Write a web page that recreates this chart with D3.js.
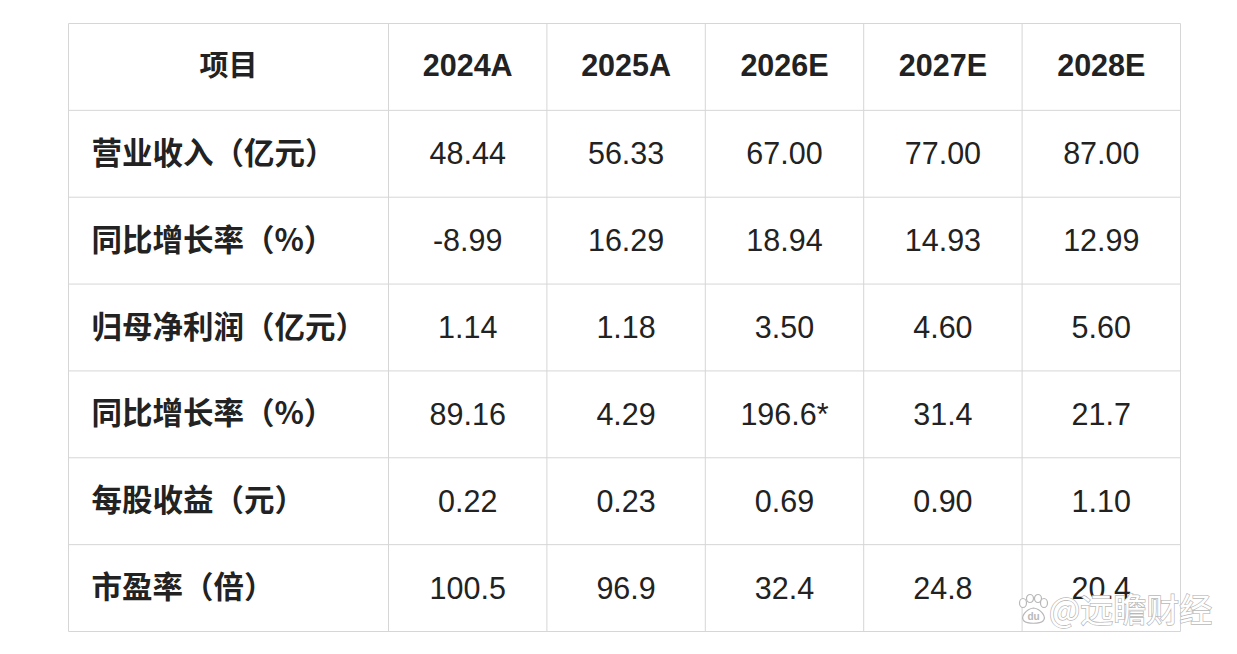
<!DOCTYPE html>
<html>
<head>
<meta charset="utf-8">
<script src="https://cdn.jsdelivr.net/npm/d3@7"></script>
<style>
  html, body { margin: 0; padding: 0; background: #fff; }
  svg { display: block; }
</style>
</head>
<body>
<div id="chart"></div>
<script>
const headerLabel = '项目'
const years = ['2024A', '2025A', '2026E', '2027E', '2028E']
const items = [
  '营业收入（亿元）',
  '同比增长率（%）',
  '归母净利润（亿元）',
  '同比增长率（%）',
  '每股收益（元）',
  '市盈率（倍）'
]
const revenue = ['48.44', '56.33', '67.00', '77.00', '87.00']
const revenueGrowth = ['-8.99', '16.29', '18.94', '14.93', '12.99']
const netProfit = ['1.14', '1.18', '3.50', '4.60', '5.60']
const profitGrowth = ['89.16', '4.29', '196.6*', '31.4', '21.7']
const eps = ['0.22', '0.23', '0.69', '0.90', '1.10']
const pe = ['100.5', '96.9', '32.4', '24.8', '20.4']
const rows = [revenue, revenueGrowth, netProfit, profitGrowth, eps, pe]

const width = 1237
const height = 654
const table = { left: 68.5, right: 1180.5, top: 23.5, bottom: 631.5, firstCol: 388.5 }
const fontCJK = '"Noto Sans CJK SC", "Noto Sans", sans-serif'
const fontNum = '"Liberation Sans", Arial, sans-serif'
const textColor = '#222'
const lineColor = '#d6d6d6'
const numSize = 30.5
const labelSize = 30.5
const headSize = 29

const svg = d3.select('#chart')
  .append('svg')
  .attr('width', width)
  .attr('height', height)

const yScaler = d3.scaleBand()
  .domain(d3.range(items.length + 1))
  .range([table.top, table.bottom])

const xScaler = d3.scaleBand()
  .domain(years)
  .range([table.firstCol, table.right])

// grid lines
const grid = svg.append('g').classed('grid', true)
grid.selectAll('line.h')
  .data(d3.range(items.length + 2))
  .join('line')
  .attr('class', 'h')
  .attr('x1', table.left)
  .attr('x2', table.right)
  .attr('y1', d => d <= items.length ? yScaler(d) : table.bottom)
  .attr('y2', d => d <= items.length ? yScaler(d) : table.bottom)
  .attr('stroke', lineColor)

const colEdges = [table.left].concat(years.map(y => xScaler(y)), [table.right])
grid.selectAll('line.v')
  .data(colEdges)
  .join('line')
  .attr('class', 'v')
  .attr('x1', d => d)
  .attr('x2', d => d)
  .attr('y1', table.top)
  .attr('y2', table.bottom)
  .attr('stroke', lineColor)

const midY = i => yScaler(i) + yScaler.bandwidth() / 2
// baselines: digits sit on cap-height centre, ideographs on em-box centre
const numBase = (i, size) => midY(i) + 0.345 * size
const cjkBase = (i, size) => midY(i) + 0.33 * size

// header
const header = svg.append('g').classed('header', true)
header.append('text')
  .attr('x', (table.left + table.firstCol) / 2)
  .attr('y', cjkBase(0, headSize))
  .attr('text-anchor', 'middle')
  .style('font-family', fontCJK)
  .style('font-weight', 700)
  .style('font-size', headSize + 'px')
  .style('fill', textColor)
  .text(headerLabel)

header.selectAll('text.year')
  .data(years)
  .join('text')
  .attr('class', 'year')
  .attr('x', d => xScaler(d) + xScaler.bandwidth() / 2)
  .attr('y', numBase(0, numSize) - 1)
  .attr('text-anchor', 'middle')
  .style('font-family', fontNum)
  .style('font-weight', 700)
  .style('font-size', numSize + 'px')
  .style('fill', textColor)
  .text(d => d)

// body rows
const body = svg.append('g').classed('body', true)
const rowGroups = body.selectAll('g.row')
  .data(rows)
  .join('g')
  .attr('class', 'row')

rowGroups.append('text')
  .attr('x', table.left + 23)
  .attr('y', (d, i) => cjkBase(i + 1, labelSize))
  .style('font-family', fontCJK)
  .style('font-weight', 700)
  .style('font-size', labelSize + 'px')
  .style('fill', textColor)
  .text((d, i) => items[i])

rowGroups.each(function (values, i) {
  d3.select(this).selectAll('text.val')
    .data(values)
    .join('text')
    .attr('class', 'val')
    .attr('x', (v, j) => xScaler(years[j]) + xScaler.bandwidth() / 2)
    .attr('y', numBase(i + 1, numSize))
    .attr('text-anchor', 'middle')
    .style('font-family', fontNum)
    .style('font-size', numSize + 'px')
    .style('fill', textColor)
    .text(v => v)
})

// watermark
const mark = svg.append('g').classed('watermark', true)
  .attr('transform', 'translate(1018, 595)')
  .style('fill', '#fff')
  .style('stroke', '#b8b8b8')
  .style('stroke-width', 1.2)
const toes = [[5, 8, 3.5, 4.5], [12, 3.5, 3.5, 4], [20, 3.5, 3.5, 4], [26, 8, 3.5, 4.5]]
mark.selectAll('ellipse')
  .data(toes)
  .join('ellipse')
  .attr('cx', d => d[0])
  .attr('cy', d => d[1])
  .attr('rx', d => d[2])
  .attr('ry', d => d[3])
mark.append('path')
  .attr('d', 'M6,26 C2,22 8,14 15.5,13 C23,14 29,22 25,26 C22,29 9,29 6,26 Z')
mark.append('text')
  .attr('x', 15.5)
  .attr('y', 25)
  .attr('text-anchor', 'middle')
  .style('font-family', fontNum)
  .style('font-weight', 700)
  .style('font-size', '10px')
  .style('fill', '#b8b8b8')
  .style('stroke', 'none')
  .text('du')
mark.append('text')
  .attr('x', 31)
  .attr('y', 27)
  .style('font-family', fontCJK)
  .style('font-size', '33px')
  .style('stroke-width', 1.4)
  .style('paint-order', 'stroke')
  .text('@远瞻财经')
</script>
</body>
</html>
